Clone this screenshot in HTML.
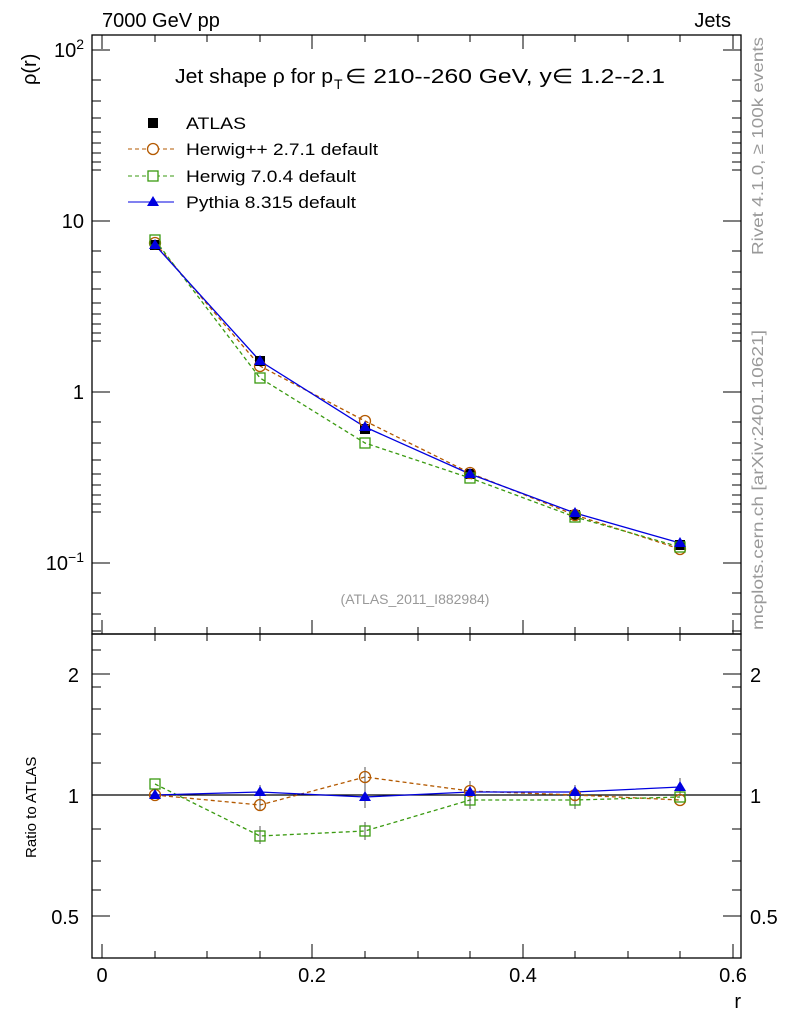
<!DOCTYPE html>
<html><head><meta charset="utf-8"><style>body{margin:0;background:#fff}svg{display:block}text{font-family:"Liberation Sans",sans-serif}</style></head><body>
<svg width="786" height="1024" viewBox="0 0 786 1024" xmlns="http://www.w3.org/2000/svg">
<rect width="786" height="1024" fill="#fff"/>
<g fill="none" stroke="#000" stroke-width="1.3">
<rect x="92" y="35" width="649" height="599"/>
<rect x="92" y="634" width="649" height="324"/>
</g>
<g stroke="#000" stroke-width="1">
<path d="M92 50h18M741 50h-18M92 221h18M741 221h-18M92 392h18M741 392h-18M92 563h18M741 563h-18"/>
<path d="M92 80h9M92 101h9M92 118h9M92 132h9M92 143h9M92 153h9M92 162h9M92 170h9
M92 251h9M92 272h9M92 289h9M92 303h9M92 314h9M92 324h9M92 333h9M92 341h9
M92 422h9M92 443h9M92 460h9M92 474h9M92 485h9M92 495h9M92 504h9M92 512h9
M92 593h9M92 614h9M92 631h9"/>
<path d="M741 80h-9M741 101h-9M741 118h-9M741 132h-9M741 143h-9M741 153h-9M741 162h-9M741 170h-9
M741 251h-9M741 272h-9M741 289h-9M741 303h-9M741 314h-9M741 324h-9M741 333h-9M741 341h-9
M741 422h-9M741 443h-9M741 460h-9M741 474h-9M741 485h-9M741 495h-9M741 504h-9M741 512h-9
M741 593h-9M741 614h-9M741 631h-9"/>
<path d="M102 634v-14M312 634v-14M523 634v-14M733 634v-14M102 958v-14M312 958v-14M523 958v-14M733 958v-14
M102 35v14M312 35v14M523 35v14M733 35v14"/>
<path d="M155 634v-7M207 634v-7M260 634v-7M365 634v-7M418 634v-7M470 634v-7M575 634v-7M628 634v-7M680 634v-7
M155 958v-7M207 958v-7M260 958v-7M365 958v-7M418 958v-7M470 958v-7M575 958v-7M628 958v-7M680 958v-7
M155 35v7M207 35v7M260 35v7M365 35v7M418 35v7M470 35v7M575 35v7M628 35v7M680 35v7
M155 634v7M207 634v7M260 634v7M365 634v7M418 634v7M470 634v7M575 634v7M628 634v7M680 634v7"/>
<path d="M92 674h18M741 674h-18M92 795h18M741 795h-18M92 916h18M741 916h-18"/>
<path d="M92 763h9M92 734h9M92 709h9M92 687h9M92 861h9M92 829h9M92 890h9M92 650h9
M741 763h-9M741 734h-9M741 709h-9M741 687h-9M741 861h-9M741 829h-9M741 890h-9M741 650h-9"/>
<line x1="92" y1="795" x2="741" y2="795" stroke-width="1.2"/>
</g>
<g font-size="20" fill="#000">
<text x="84" y="57" text-anchor="end">10<tspan font-size="14" dy="-8">2</tspan></text>
<text x="84" y="228" text-anchor="end">10</text>
<text x="84" y="399" text-anchor="end">1</text>
<text x="84" y="570" text-anchor="end">10<tspan font-size="14" dy="-8">−1</tspan></text>
<text x="79" y="682" text-anchor="end">2</text>
<text x="79" y="803" text-anchor="end">1</text>
<text x="79" y="924" text-anchor="end">0.5</text>
<text x="750" y="682">2</text>
<text x="750" y="803">1</text>
<text x="750" y="924">0.5</text>
<text x="102" y="982" text-anchor="middle">0</text>
<text x="312" y="982" text-anchor="middle">0.2</text>
<text x="523" y="982" text-anchor="middle">0.4</text>
<text x="733" y="982" text-anchor="middle">0.6</text>
<text x="741" y="1008" text-anchor="end">r</text>
<text x="102" y="27">7000 GeV pp</text>
<text x="731" y="27" text-anchor="end">Jets</text>
<text transform="translate(36,85) rotate(-90)">ρ(r)</text>
<text x="175" y="83" textLength="158" lengthAdjust="spacingAndGlyphs">Jet shape ρ for p</text>
<text x="334" y="89" font-size="14">T</text>
<text x="345" y="83" textLength="320" lengthAdjust="spacingAndGlyphs">∈ 210--260 GeV, y∈ 1.2--2.1</text>
</g>
<text transform="translate(36,858) rotate(-90)" font-size="15">Ratio to ATLAS</text>
<text x="415" y="604" font-size="14" fill="#999" text-anchor="middle">(ATLAS_2011_I882984)</text>
<text transform="translate(763,255) rotate(-90)" font-size="16" fill="#999" textLength="218" lengthAdjust="spacingAndGlyphs">Rivet 4.1.0, ≥ 100k events</text>
<text transform="translate(763,630) rotate(-90)" font-size="16" fill="#999" textLength="300" lengthAdjust="spacingAndGlyphs">mcplots.cern.ch [arXiv:2401.10621]</text>
<g font-size="17">
<rect x="148" y="118" width="10" height="10" fill="#000"/><text x="186" y="129" textLength="60" lengthAdjust="spacingAndGlyphs">ATLAS</text>
<line x1="128" y1="149" x2="174" y2="149" stroke="#b35900" stroke-dasharray="4,3"/><circle cx="153" cy="149" r="5.5" fill="#fff" stroke="#b35900" stroke-width="1.3"/><text x="186" y="155" textLength="192" lengthAdjust="spacingAndGlyphs">Herwig++ 2.7.1 default</text>
<line x1="128" y1="176" x2="174" y2="176" stroke="#3a9a10" stroke-dasharray="4,3"/><rect x="148" y="171" width="10" height="10" fill="#fff" stroke="#3a9a10" stroke-width="1.3"/><text x="186" y="182" textLength="170" lengthAdjust="spacingAndGlyphs">Herwig 7.0.4 default</text>
<line x1="128" y1="202" x2="174" y2="202" stroke="#0000e0"/><path d="M153 196l6 10h-12z" fill="#0000e0"/><text x="186" y="208" textLength="170" lengthAdjust="spacingAndGlyphs">Pythia 8.315 default</text>
</g>
<polyline points="155,243 260,366 365,421 470,473 575,515 680,549" fill="none" stroke="#b35900" stroke-dasharray="4,3" stroke-width="1.3"/>
<polyline points="155,240 260,378 365,443 470,478 575,517 680,547" fill="none" stroke="#3a9a10" stroke-dasharray="4,3" stroke-width="1.3"/>
<polyline points="155,245 260,361 365,427 470,474 575,513 680,543" fill="none" stroke="#0000e0" stroke-width="1.3"/>
<g fill="#000"><rect x="150" y="240" width="10" height="10"/><rect x="255" y="356" width="10" height="10"/><rect x="360" y="424" width="10" height="10"/><rect x="465" y="469" width="10" height="10"/><rect x="570" y="510" width="10" height="10"/><rect x="675" y="540" width="10" height="10"/></g>
<g fill="none" stroke="#b35900" stroke-width="1.3"><circle cx="155" cy="243" r="5.5"/><circle cx="260" cy="366" r="5.5"/><circle cx="365" cy="421" r="5.5"/><circle cx="470" cy="473" r="5.5"/><circle cx="575" cy="515" r="5.5"/><circle cx="680" cy="549" r="5.5"/></g>
<g fill="none" stroke="#3a9a10" stroke-width="1.3"><rect x="150" y="235" width="10" height="10"/><rect x="255" y="373" width="10" height="10"/><rect x="360" y="438" width="10" height="10"/><rect x="465" y="473" width="10" height="10"/><rect x="570" y="512" width="10" height="10"/><rect x="675" y="542" width="10" height="10"/></g>
<g fill="#0000e0"><path d="M155 239l6 10h-12z"/><path d="M260 355l6 10h-12z"/><path d="M365 421l6 10h-12z"/><path d="M470 468l6 10h-12z"/><path d="M575 507l6 10h-12z"/><path d="M680 537l6 10h-12z"/></g>
<polyline points="155,795 260,805 365,777 470,791 575,795 680,800" fill="none" stroke="#b35900" stroke-dasharray="4,3" stroke-width="1.3"/>
<polyline points="155,784 260,836 365,831 470,800 575,800 680,797" fill="none" stroke="#3a9a10" stroke-dasharray="4,3" stroke-width="1.3"/>
<polyline points="155,795 260,792 365,797 470,792 575,792 680,787" fill="none" stroke="#0000e0" stroke-width="1.3"/>
<g stroke="#555" stroke-width="1"><path d="M260 785v26M365 767v20M470 781v20M575 785v20M680 778v18M365 786v22M260 826v18M365 822v18M470 791v18M575 791v18"/></g>
<g fill="none" stroke="#b35900" stroke-width="1.3"><circle cx="155" cy="795" r="5.5"/><circle cx="260" cy="805" r="5.5"/><circle cx="365" cy="777" r="5.5"/><circle cx="470" cy="791" r="5.5"/><circle cx="575" cy="795" r="5.5"/><circle cx="680" cy="800" r="5.5"/></g>
<g fill="none" stroke="#3a9a10" stroke-width="1.3"><rect x="150" y="779" width="10" height="10"/><rect x="255" y="831" width="10" height="10"/><rect x="360" y="826" width="10" height="10"/><rect x="465" y="795" width="10" height="10"/><rect x="570" y="795" width="10" height="10"/><rect x="675" y="792" width="10" height="10"/></g>
<g fill="#0000e0"><path d="M155 789l6 10h-12z"/><path d="M260 786l6 10h-12z"/><path d="M365 791l6 10h-12z"/><path d="M470 786l6 10h-12z"/><path d="M575 786l6 10h-12z"/><path d="M680 781l6 10h-12z"/></g>
</svg>
</body></html>
